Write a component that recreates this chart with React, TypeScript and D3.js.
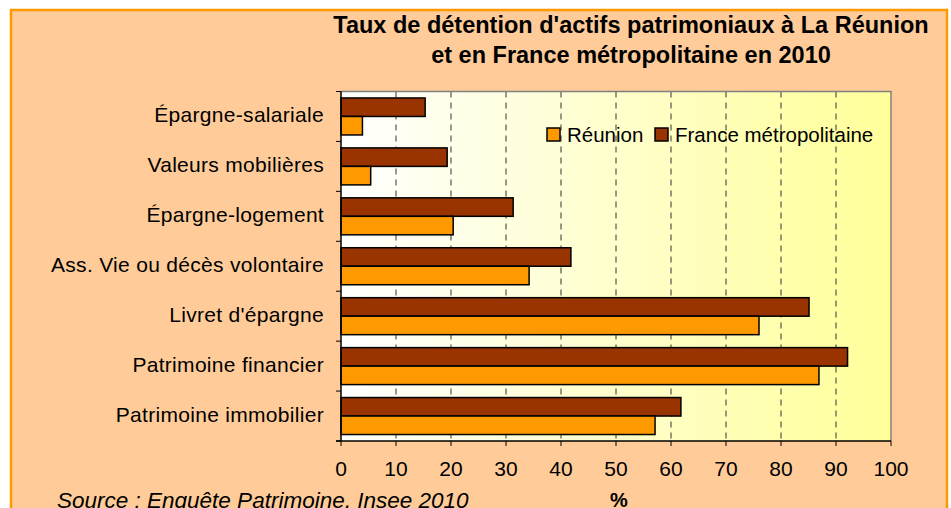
import React from "react";
import * as d3 from "d3";

const categories = [
  "Épargne-salariale",
  "Valeurs mobilières",
  "Épargne-logement",
  "Ass. Vie ou décès volontaire",
  "Livret d'épargne",
  "Patrimoine financier",
  "Patrimoine immobilier",
];
const reunion = [3.9, 5.4, 20.4, 34.2, 76.0, 86.9, 57.1];
const france = [15.3, 19.3, 31.3, 41.8, 85.1, 92.1, 61.8];
const seriesNames = ["France métropolitaine", "Réunion"];
const xTicks = [0, 10, 20, 30, 40, 50, 60, 70, 80, 90, 100];
const titleLines = [
  "Taux de détention d'actifs patrimoniaux à La Réunion",
  "et en France métropolitaine en 2010",
];

const W = 951;
const H = 508;
const plot = { left: 341, right: 891, top: 91.5, bottom: 441 };
const colors: Record<string, string> = {
  "Réunion": "#FF9900",
  "France métropolitaine": "#993300",
};
const font = "'Liberation Sans', Arial, sans-serif";

export default function App() {
  const x = d3.scaleLinear().domain([0, 100]).range([plot.left, plot.right]);
  const y = d3
    .scaleBand<string>()
    .domain(categories)
    .range([plot.top, plot.bottom])
    .padding(0);
  const sub = d3
    .scaleBand<string>()
    .domain(seriesNames)
    .range([0, y.bandwidth()])
    .paddingInner(0)
    .paddingOuter(0.35);
  const values: Record<string, number[]> = {
    "Réunion": reunion,
    "France métropolitaine": france,
  };

  return (
    <svg
      width={W}
      height={H}
      style={{ position: "absolute", left: 0, top: 0, display: "block" }}
      fontFamily={font}
    >
      <defs>
        <linearGradient id="plotGrad" x1="0" y1="0" x2="1" y2="0">
          <stop offset="0" stopColor="#FFFFFF" />
          <stop offset="1" stopColor="#FFFF99" />
        </linearGradient>
      </defs>
      <rect x={0} y={0} width={W} height={H} fill="#FFFFFF" />
      <rect
        x={11}
        y={10}
        width={936}
        height={H + 20}
        fill="#FFCC99"
        stroke="#FF9900"
        strokeWidth={2.5}
      />
      {titleLines.map((t, i) => (
        <text
          key={i}
          x={631}
          y={33 + i * 30}
          textAnchor="middle"
          fontWeight="bold"
          fontSize={23.5}
          fill="#000"
        >
          {t}
        </text>
      ))}
      <rect
        x={plot.left}
        y={plot.top}
        width={plot.right - plot.left}
        height={plot.bottom - plot.top}
        fill="url(#plotGrad)"
      />
      {xTicks
        .filter((t) => t > 0 && t < 100)
        .map((t) => (
          <line
            key={t}
            x1={x(t)}
            x2={x(t)}
            y1={plot.top}
            y2={plot.bottom}
            stroke="#333"
            strokeWidth={1}
            strokeDasharray="6,5"
          />
        ))}
      <path
        d={`M${plot.left},${plot.top}H${plot.right}V${plot.bottom}`}
        fill="none"
        stroke="#808080"
        strokeWidth={1.5}
      />
      {categories.map((c, i) =>
        seriesNames.map((s) => (
          <rect
            key={c + s}
            x={x(0)}
            y={(y(c) as number) + (sub(s) as number)}
            width={x(values[s][i]) - x(0)}
            height={sub.bandwidth()}
            fill={colors[s]}
            stroke="#000"
            strokeWidth={1.5}
          />
        ))
      )}
      {/* y axis */}
      <line x1={plot.left} x2={plot.left} y1={plot.top} y2={plot.bottom} stroke="#000" strokeWidth={1.5} />
      {[...categories.map((c) => y(c) as number), plot.bottom].map((v, i) => (
        <line key={i} x1={plot.left - 5} x2={plot.left} y1={v} y2={v} stroke="#000" strokeWidth={1} />
      ))}
      {categories.map((c) => (
        <text
          key={c}
          x={324}
          y={(y(c) as number) + y.bandwidth() / 2 - 2}
          textAnchor="end"
          dominantBaseline="central"
          fontSize={21}
          letterSpacing={0.3}
          fill="#000"
        >
          {c}
        </text>
      ))}
      {/* x axis */}
      <line x1={plot.left - 5} x2={plot.right} y1={plot.bottom} y2={plot.bottom} stroke="#000" strokeWidth={1.5} />
      {xTicks.map((t) => (
        <g key={t}>
          <line x1={x(t)} x2={x(t)} y1={plot.bottom} y2={plot.bottom + 5} stroke="#000" strokeWidth={1} />
          <text x={x(t)} y={476} textAnchor="middle" fontSize={21} fill="#000">
            {t}
          </text>
        </g>
      ))}
      <text x={619} y={507} textAnchor="middle" fontWeight="bold" fontSize={20} fill="#000">
        %
      </text>
      <text x={57} y={508} fontStyle="italic" fontSize={22.5} fill="#000">
        Source : Enquête Patrimoine, Insee 2010
      </text>
      {/* legend */}
      <rect x={547} y={128} width={13} height={13} fill={colors["Réunion"]} stroke="#000" strokeWidth={1.5} />
      <text x={567} y={142} fontSize={20.5} fill="#000">Réunion</text>
      <rect x={655} y={128} width={13} height={13} fill={colors["France métropolitaine"]} stroke="#000" strokeWidth={1.5} />
      <text x={675} y={142} fontSize={20.5} fill="#000">France métropolitaine</text>
    </svg>
  );
}
